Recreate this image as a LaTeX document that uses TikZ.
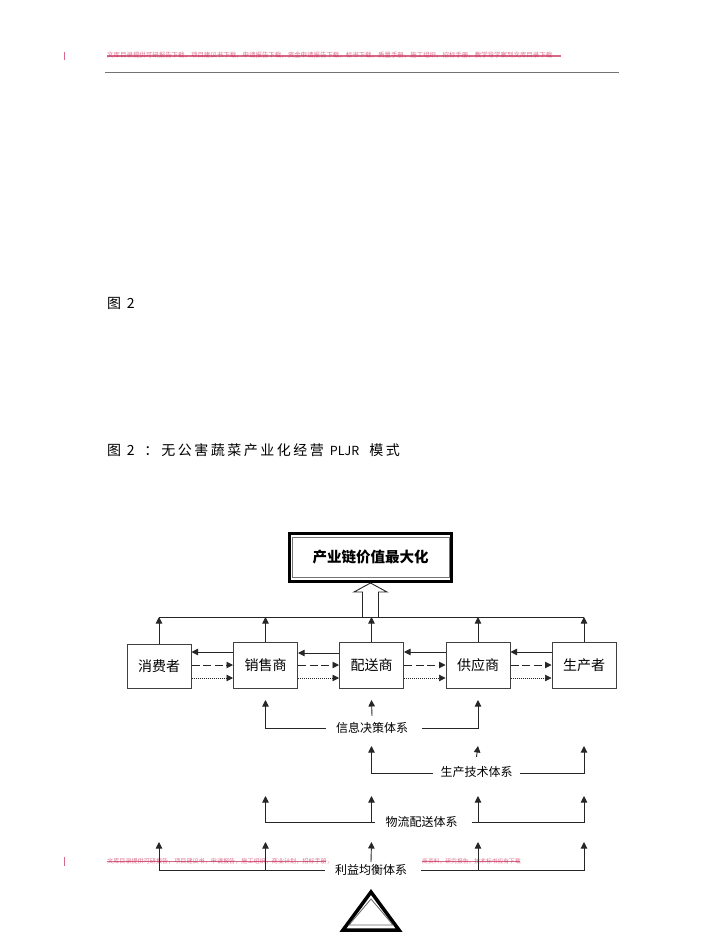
\documentclass[tikz,border=0pt]{standalone}
\usepackage{fontspec}
\setmainfont{Noto Sans CJK SC}
\usetikzlibrary{arrows.meta}
\definecolor{wmred}{RGB}{200,40,85}
\tikzset{
	box/.style={draw=black!75, line width=1pt, fill=white, minimum width=64pt, minimum height=46pt, inner sep=0pt, font=\fontsize{14}{14}\selectfont},
	syslabel/.style={inner sep=0pt, minimum width=92pt, font=\fontsize{12}{12}\selectfont},
	line/.style={draw=black!85, line width=0.9pt},
	tip/.style={line, -{Triangle[length=6.5pt, width=6.5pt]}},
	dashtip/.style={tip, dash pattern=on 8pt off 3.5pt},
	dottip/.style={tip, dash pattern=on 1pt off 1pt, line width=0.7pt},
	heading/.style={inner sep=0pt, anchor=west, font=\fontsize{14}{14}\selectfont\addfontfeature{LetterSpace=18}},
	wmtext/.style={inner sep=0pt, anchor=west, text=wmred, text opacity=0.65, font=\fontsize{6.1}{6}\selectfont},
	wmline/.style={draw=wmred, line width=1.1pt, opacity=0.7}
}

\begin{document}
\begin{tikzpicture}[x=1pt, y=-1pt]
		%%%%% PAGE %%%%%
		\useasboundingbox (0, 0) rectangle (723, 936);

		\draw[wmline] (64.5, 52) -- (64.5, 60);
		\node[wmtext, font=\fontsize{6.45}{6}\selectfont] (wmtop) at (107, 55) {文库目录提供可研报告下载，项目建议书下载，申请报告下载，资金申请报告下载，标书下载，质量手册，施工组织，招标手册，教学导学案到文库目录下载};
		\draw[wmline] (107, 56) -- (561, 56);
		\draw[draw=black!55, line width=0.9pt] (105, 72) -- (619, 72);

		\node[heading] (figone) at (107, 303) {图 2};
		\node[heading] (figtwo) at (107, 450) {图 2\hspace{4pt} ：\hspace{3pt}无公害蔬菜产业化经营\hspace{6pt}{\fontsize{12.5}{14}\selectfont\addfontfeature{LetterSpace=0}PLJR}\hspace{10pt}模式};

		%%%%% TOP BOX %%%%%
		\node[draw=black, line width=3pt, minimum width=162pt, minimum height=48pt, inner sep=0pt, font=\fontsize{14.5}{15}\bfseries\selectfont] (goal) at (370.5, 557) {产业链价值最大化};
		\draw[draw=black!55, line width=0.9pt] (292, 537) rectangle (449, 577);

		\draw[line, fill=white] (362.5, 617) -- (362.5, 592) -- (354, 592) -- (370.5, 583) -- (387, 592) -- (378.5, 592) -- (378.5, 617);

		%%%%% ROW OF BOXES %%%%%
		\node[box, minimum height=44pt] (consumer) at (159, 666) {消费者};
		\node[box] (seller) at (265.5, 665) {销售商};
		\node[box] (carrier) at (371.5, 665) {配送商};
		\node[box] (supplier) at (478, 665) {供应商};
		\node[box] (producer) at (584, 665) {生产者};

		\coordinate (topline) at (0, 617);
		\coordinate (rowa) at (0, 700);
		\coordinate (rowb) at (0, 746);
		\coordinate (rowc) at (0, 796);
		\coordinate (rowd) at (0, 842);

		\draw[line] (consumer |- topline) -- (producer |- topline);
		\foreach \name in {consumer, seller, carrier, supplier, producer}
			\draw[tip] (\name.north) -- (\name |- topline);

		\draw[tip] ([yshift=13pt]seller.west) -- ([yshift=14pt]consumer.east);
		\draw[dashtip] ([yshift=1pt]consumer.east) -- ([yshift=0pt]seller.west);
		\draw[dottip] ([yshift=-12pt]consumer.east) -- ([yshift=-13pt]seller.west);

		\draw[tip] ([yshift=12pt]carrier.west) -- ([yshift=12pt]seller.east);
		\draw[dashtip] (seller.east) -- (carrier.west);
		\draw[dottip] ([yshift=-13pt]seller.east) -- ([yshift=-13pt]carrier.west);

		\draw[tip] ([yshift=13pt]supplier.west) -- ([yshift=13pt]carrier.east);
		\draw[dashtip] (carrier.east) -- (supplier.west);
		\draw[dottip] ([yshift=-13pt]carrier.east) -- ([yshift=-13pt]supplier.west);

		\draw[tip] ([yshift=13pt]producer.west) -- ([yshift=13pt]supplier.east);
		\draw[dashtip] (supplier.east) -- (producer.west);
		\draw[dottip] ([yshift=-13pt]supplier.east) -- ([yshift=-13pt]producer.west);

		%%%%% SYSTEMS %%%%%
		\node[syslabel, minimum height=24pt] (info) at (372, 728) {信息决策体系};
		\draw[tip] (info.west) -| (seller |- rowa);
		\draw[tip] (info.north) -- (carrier |- rowa);
		\draw[tip] ([xshift=4pt]info.east) -| (supplier |- rowa);

		\node[syslabel, minimum width=86pt, minimum height=30pt] (tech) at (476.5, 772) {生产技术体系};
		\draw[tip] (tech.west |- 0, 773) -| (carrier |- rowb);
		\draw[tip] (tech.north) -- (supplier |- rowb);
		\draw[tip] (tech.east |- 0, 773) -| (producer |- rowb);

		\node[syslabel] (logistics) at (421.5, 822) {物流配送体系};
		\draw[tip] (logistics.west) -| (seller |- rowc);
		\draw[tip] (carrier |- logistics.west) -- (carrier |- rowc);
		\draw[tip] ([xshift=4pt]logistics.east) -| (producer |- rowc);
		\draw[tip] (supplier |- logistics.east) -- (supplier |- rowc);

		\draw[wmline] (64.5, 857) -- (64.5, 866);
		\node[wmtext] (wmleft) at (107, 861) {文库目录提供可研报告，项目建议书，申请报告，施工组织，商业计划，招标手册，};
		\node[wmtext, font=\fontsize{5.8}{6}\selectfont] (wmright) at (422, 861) {商资料，研究报告，技术标书应有下载};
		\draw[wmline] (107, 861.5) -- (326, 861.5);
		\draw[wmline] (422, 861.5) -- (520, 861.5);

		\node[syslabel, minimum height=16pt] (balance) at (371, 870) {利益均衡体系};
		\draw[tip] (balance.west) -| (consumer |- rowd);
		\draw[tip] (seller |- balance.west) -- (seller |- rowd);
		\draw[tip] (balance.north) -- (carrier |- rowd);
		\draw[tip] ([xshift=4pt]balance.east) -| (producer |- rowd);
		\draw[tip] (supplier |- balance.east) -- (supplier |- rowd);

		%%%%% TRIANGLE %%%%%
		\draw[line width=3.5pt, line join=miter] (371, 892) -- (343, 930) -- (399, 930) -- cycle;
		\draw[draw=black!60, line width=0.8pt] (371, 899) -- (349, 925) -- (393, 925) -- cycle;
		%%%%% END %%%%%
\end{tikzpicture}
\end{document}
